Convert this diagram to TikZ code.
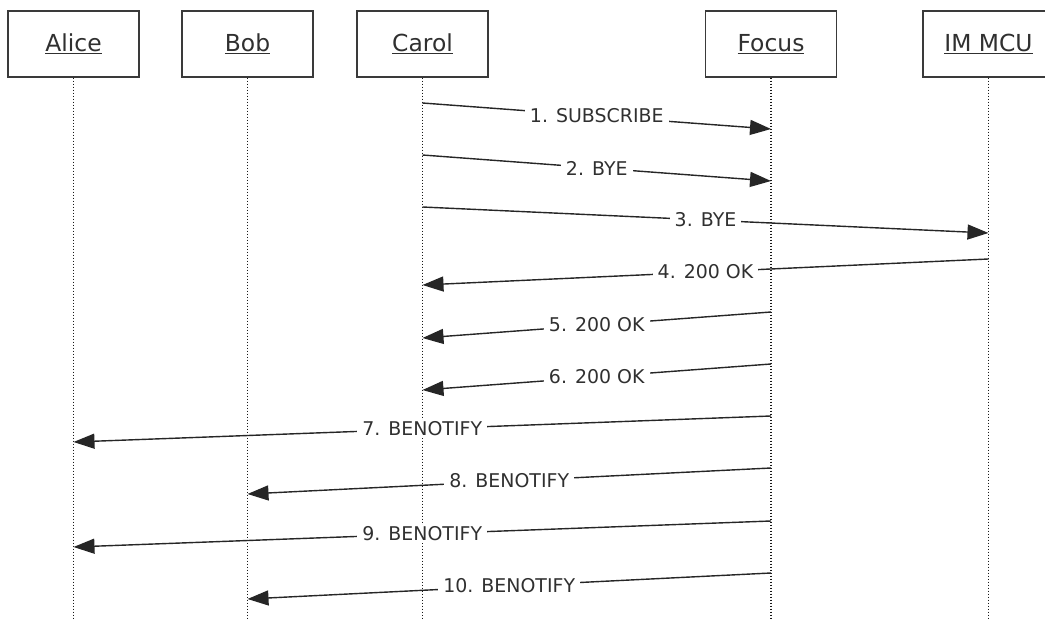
\documentclass[tikz,border=0pt]{standalone}
\usepackage{fontspec}
\setmainfont{DejaVu Sans}
\usetikzlibrary{arrows.meta}
\definecolor{ink}{HTML}{303030}
\definecolor{frame}{HTML}{3A3A3A}
\tikzset{
  actor/.style={draw=frame, line width=1.4bp, fill=white, minimum width=131bp, minimum height=66bp,
    inner sep=0pt, text=ink, font=\fontsize{23.5}{26}\selectfont},
  lifeline/.style={draw=black!90, line width=1.6bp, dash pattern=on 1.5bp off 1.5bp},
  msg/.style={draw=black!85, line width=1.4bp, -{Triangle[length=21bp, width=15bp]}},
  lbl/.style={fill=white, inner xsep=5bp, inner ysep=2bp, text=ink, font=\fontsize{19}{22}\selectfont}
}
\begin{document}
\begin{tikzpicture}[x=1bp, y=-1bp]
\useasboundingbox (0,0) rectangle (1045,620);
\clip (0,0) rectangle (1045,620);
% actors
\node[actor] (alice) at (73.5,44) {\underline{Alice}};
\node[actor] (bob)   at (247.5,44) {\underline{Bob}};
\node[actor] (carol) at (422.5,44) {\underline{Carol}};
\node[actor] (focus) at (771,44) {\underline{Focus}};
\node[actor] (mcu)   at (988.5,44) {\underline{IM MCU}};
% lifeline ends
\coordinate (aliceE) at (73.5,622);
\coordinate (bobE)   at (247.5,622);
\coordinate (carolE) at (422.5,622);
\coordinate (focusE) at (771,622);
\coordinate (mcuE)   at (988.5,622);
\draw[lifeline] (alice.south) -- (aliceE);
\draw[lifeline] (bob.south) -- (bobE);
\draw[lifeline] (carol.south) -- (carolE);
\draw[lifeline] (focus.south) -- (focusE);
\draw[lifeline] (mcu.south) -- (mcuE);
% message points
\coordinate (s1) at (422.5,103); \coordinate (e1) at (771,129);
\coordinate (s2) at (422.5,155); \coordinate (e2) at (771,181);
\coordinate (s3) at (422.5,207); \coordinate (e3) at (988.5,233);
\coordinate (s4) at (988.5,259); \coordinate (e4) at (422.5,285);
\coordinate (s5) at (771,312);   \coordinate (e5) at (422.5,338);
\coordinate (s6) at (771,364);   \coordinate (e6) at (422.5,390);
\coordinate (s7) at (771,416);   \coordinate (e7) at (73.5,442);
\coordinate (s8) at (771,468);   \coordinate (e8) at (247.5,494);
\coordinate (s9) at (771,521);   \coordinate (e9) at (73.5,547);
\coordinate (s10) at (771,573);  \coordinate (e10) at (247.5,599);
% messages
\draw[msg] (s1) -- node[lbl] {1. SUBSCRIBE} (e1);
\draw[msg] (s2) -- node[lbl] {2. BYE} (e2);
\draw[msg] (s3) -- node[lbl] {3. BYE} (e3);
\draw[msg] (s4) -- node[lbl] {4. 200 OK} (e4);
\draw[msg] (s5) -- node[lbl] {5. 200 OK} (e5);
\draw[msg] (s6) -- node[lbl] {6. 200 OK} (e6);
\draw[msg] (s7) -- node[lbl] {7. BENOTIFY} (e7);
\draw[msg] (s8) -- node[lbl] {8. BENOTIFY} (e8);
\draw[msg] (s9) -- node[lbl] {9. BENOTIFY} (e9);
\draw[msg] (s10) -- node[lbl] {10. BENOTIFY} (e10);
\end{tikzpicture}
\end{document}
